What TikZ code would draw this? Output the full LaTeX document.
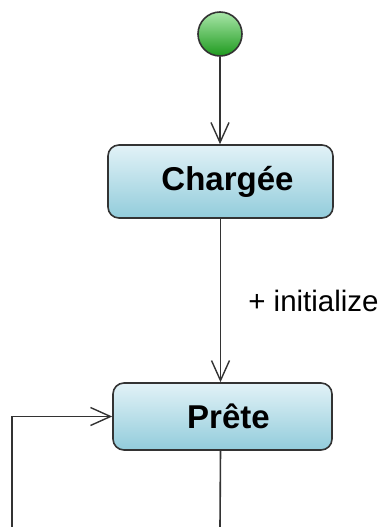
\documentclass[tikz,border=0pt]{standalone}
\usepackage{fontspec}
\setmainfont{Liberation Sans}
\usetikzlibrary{arrows.meta}
\definecolor{stateTop}{HTML}{E2F2F7}
\definecolor{stateBot}{HTML}{92CCDB}
\definecolor{edgegray}{HTML}{333333}
\definecolor{startTop}{HTML}{A8E6A8}
\definecolor{startBot}{HTML}{1E9A1E}
\begin{document}
\begin{tikzpicture}[x=1pt,y=-1pt,
  state/.style={draw=edgegray, line width=1.6pt, rounded corners=11pt,
    top color=stateTop, bottom color=stateBot,
    font=\fontsize{33}{36}\selectfont\bfseries, inner sep=0pt},
  initial/.style={circle, draw=edgegray, line width=1.6pt,
    top color=startTop, bottom color=startBot, minimum size=44pt, inner sep=0pt},
  trans/.style={draw=edgegray, line width=1.6pt,
    -{Straight Barb[length=20pt,width=18pt,line width=1.4pt]}},
  flow/.style={draw=edgegray, line width=1.6pt},
  guard/.style={font=\fontsize{29.5}{32}\selectfont, inner sep=0pt, anchor=west}]
\useasboundingbox (0,0) rectangle (382,527);

% states
\node[initial] (init) at (220,34) {};
\node[state, minimum width=225pt, minimum height=73pt] (charge) at (220.5,181.5) {\hspace*{14pt}Chargée};
\node[state, minimum width=219pt, minimum height=67pt] (prete) at (222.5,416.5) {\hspace*{12pt}Prête};

% loose ends running off the bottom edge
\coordinate (loopBase) at (12,527);
\coordinate (preteOut) at (220,527);

% transitions
\draw[trans] (init.south) -- (charge.north -| init.south);
\draw[trans] (charge.south) -- node[guard, xshift=27pt] (lblInit) {+ initialize} (prete.north -| charge.south);
\draw[trans] (loopBase) |- (prete.west);
\draw[flow] (prete.south -| charge.south) -- (preteOut);
\end{tikzpicture}
\end{document}
